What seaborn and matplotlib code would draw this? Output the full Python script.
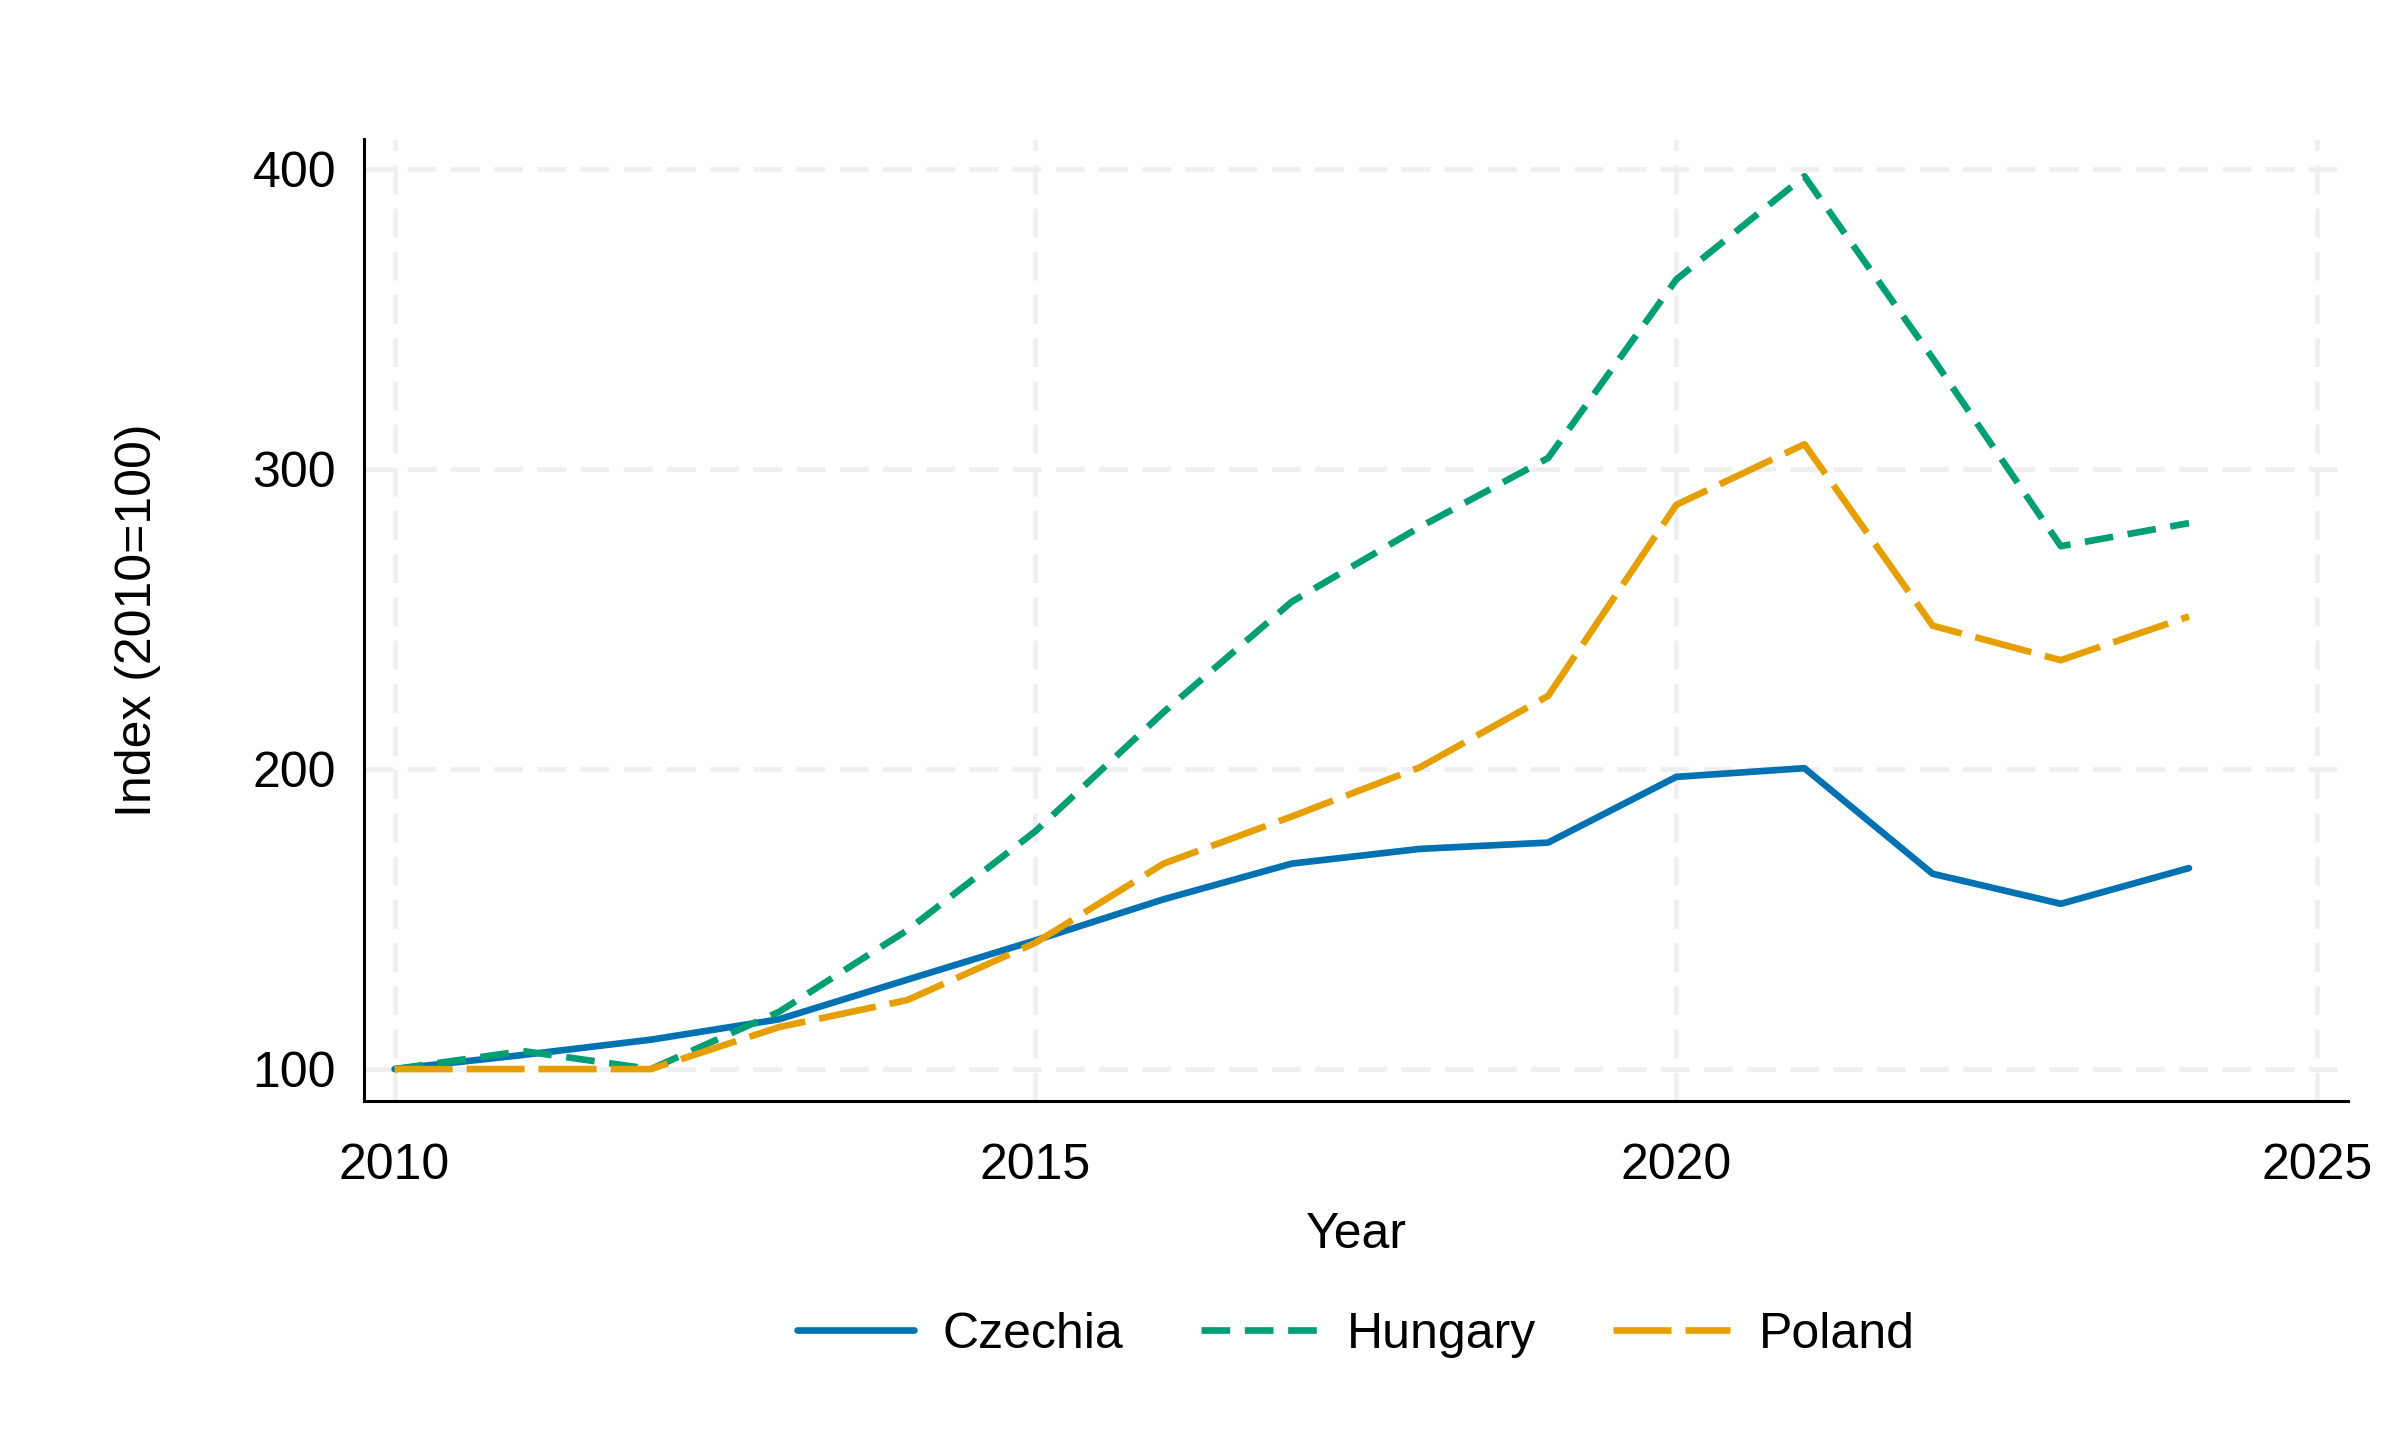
import pandas as pd
import matplotlib.pyplot as plt
import seaborn as sns

# Index values (2010 = 100)
years = list(range(2010, 2025))
czechia = [100, 104.7, 109.8, 116.6, 129.8, 142.9, 156.6, 168.5, 173.4, 175.5, 197.4, 200.3, 165.1, 155.1, 167.0]
hungary = [100, 106.0, 100.0, 119.1, 146.3, 179.3, 219.0, 255.8, 280.7, 303.7, 363.2, 397.6, 337.0, 274.3, 282.0]
poland = [100, 100.0, 100.0, 114.0, 123.0, 142.1, 168.5, 184.2, 200.6, 224.4, 288.1, 308.3, 247.8, 236.3, 250.9]

countries = ['Czechia', 'Hungary', 'Poland']
colors = {'Czechia': '#0072B2', 'Hungary': '#009E73', 'Poland': '#E69F00'}
dashes = {'Czechia': '', 'Hungary': (4.3, 2.2), 'Poland': (8.7, 2.1)}

yticks = [100, 200, 300, 400]
xticks = [2010, 2015, 2020, 2025]

# Long format for seaborn
df = pd.DataFrame({
    'Year': years * 3,
    'Index': czechia + hungary + poland,
    'Country': [c for c in countries for _ in years],
})

sns.set_style('white')
plt.rcParams['font.family'] = ['Liberation Sans', 'DejaVu Sans']
plt.rcParams['text.color'] = 'black'
plt.rcParams['axes.labelcolor'] = 'black'

fig = plt.figure(figsize=(12, 7.2), dpi=200)
ax = fig.add_axes([0.1516, 0.2355, 0.8267, 0.6679])

sns.lineplot(data=df, x='Year', y='Index', hue='Country', style='Country',
             hue_order=countries, style_order=countries,
             palette=colors, dashes=dashes, linewidth=2.4, ax=ax, legend=True)

ax.set_xlim(2009.76, 2025.24)
ax.set_ylim(89.4, 410)
ax.set_xticks(xticks)
ax.set_yticks(yticks)

# Stata-like dashed light grid
ax.grid(True, color='#efefef', linestyle=(0, (6.1, 3.05)), linewidth=1.7)
ax.set_axisbelow(True)

for side in ['top', 'right']:
    ax.spines[side].set_visible(False)
for side in ['left', 'bottom']:
    ax.spines[side].set_color('black')
    ax.spines[side].set_linewidth(1.1)

ax.tick_params(axis='both', which='major', direction='out', length=7, width=1.0,
               color='black', labelsize=18, labelcolor='black')
ax.tick_params(axis='x', pad=8)
ax.tick_params(axis='y', pad=3)

ax.set_xlabel('Year', fontsize=18)
ax.set_ylabel('Index (2010=100)', fontsize=18)
ax.xaxis.set_label_coords(0.5, -0.1155)
ax.yaxis.set_label_coords(-0.102, 0.5)

handles, labels = ax.get_legend_handles_labels()
ax.get_legend().remove()
fig.legend(handles, labels, loc='center', bbox_to_anchor=(0.565, 0.073), ncol=3,
           frameon=False, fontsize=18, handlelength=2.34, handletextpad=0.58,
           columnspacing=1.54)

fig.savefig('out.png', dpi=200, facecolor='white')
